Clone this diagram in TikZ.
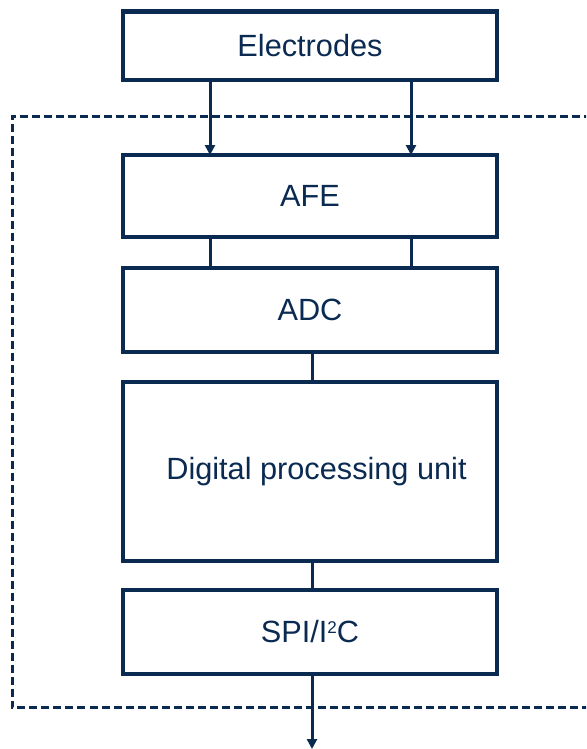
\documentclass[tikz,border=0pt]{standalone}
\usepackage{fontspec}
\setmainfont{Liberation Sans}
\usetikzlibrary{arrows.meta,calc}
\definecolor{navy}{HTML}{0A2A52}
\tikzset{
  blockbox/.style={draw=navy, line width=4.2pt, minimum width=374pt, inner sep=0pt, outer sep=0pt,
    text=navy, font=\fontsize{30.7}{36}\selectfont},
  conn/.style={draw=navy, line width=3pt},
  arr/.style={conn, -{Triangle[width=10pt,length=10pt]}},
  dashbox/.style={draw=navy, line width=3pt, dash pattern=on 8pt off 4pt}
}
\newcommand{\smallsup}[1]{\raisebox{9pt}{\fontsize{17}{17}\selectfont #1}}
\begin{document}
\begin{tikzpicture}[x=1pt,y=-1pt]
\useasboundingbox (0,0) rectangle (586,749);
\begin{scope}
\clip (0,0) rectangle (586,749);
\draw[dashbox] (640,116.5) -- (12,116.5) -- (12,707) -- (640,707);
\end{scope}
\node[blockbox, minimum height=68.5pt] (elec) at (310,45.75) {Electrodes};
\node[blockbox, minimum height=82pt] (afe) at (310,196) {AFE};
\node[blockbox, minimum height=84pt] (adc) at (310,310) {ADC};
\node[blockbox, minimum height=178.7pt] (dpu) at (310,471.3) {\hspace*{13pt}Digital processing unit};
\node[blockbox, minimum height=84pt] (spi) at (310,632) {SPI/I\smallsup{2}C};
\coordinate (out) at (312,749);
\draw[arr] ($(elec.south)+(-100,0)$) -- ($(afe.north)+(-100,0)$);
\draw[arr] ($(elec.south)+(101,0)$) -- ($(afe.north)+(101,0)$);
\draw[conn] ($(afe.south)+(-100,0)$) -- ($(adc.north)+(-100,0)$);
\draw[conn] ($(afe.south)+(101,0)$) -- ($(adc.north)+(101,0)$);
\draw[conn] ($(adc.south)+(2,0)$) -- ($(dpu.north)+(2,0)$);
\draw[conn] ($(dpu.south)+(2,0)$) -- ($(spi.north)+(2,0)$);
\draw[arr] ($(spi.south)+(2,0)$) -- (out);
\end{tikzpicture}
\end{document}
